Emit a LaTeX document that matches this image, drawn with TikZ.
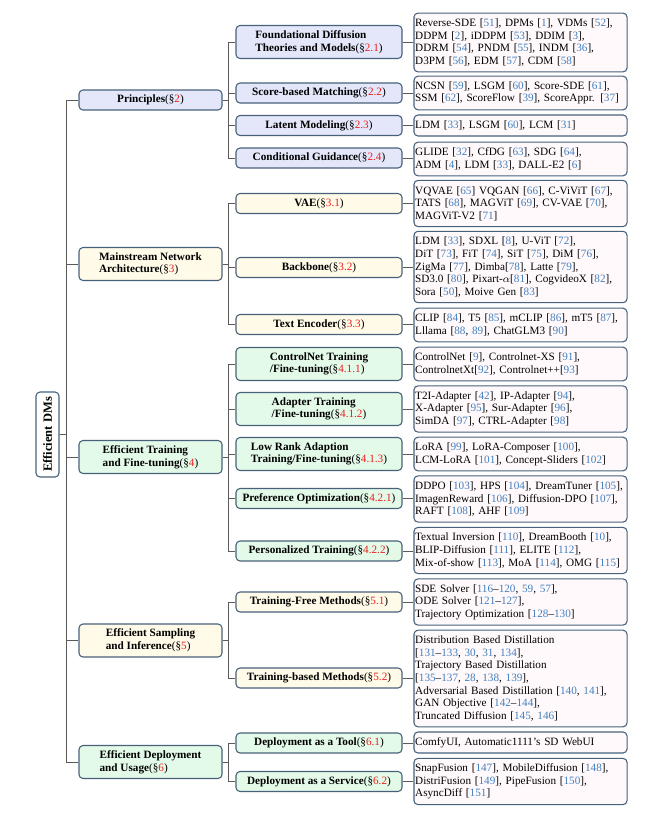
\documentclass[tikz,border=0pt]{standalone}
\usepackage{fontspec}
\setmainfont{Liberation Serif}
\usetikzlibrary{calc}
\definecolor{framec}{RGB}{72,97,122}
\definecolor{edgec}{RGB}{90,90,90}
\definecolor{purplebg}{RGB}{228,231,250}
\definecolor{yellowbg}{RGB}{255,251,232}
\definecolor{greenbg}{RGB}{228,250,232}
\definecolor{leafbg}{RGB}{255,249,251}
\definecolor{refblue}{RGB}{66,128,190}
\definecolor{secred}{RGB}{235,30,30}
\newcommand{\rf}[1]{\textcolor{refblue}{#1}}
\newcommand{\sect}[1]{{\mdseries(\S\textcolor{secred}{#1})}}
\def\txtfont{\fontsize{8.4}{9.45}\selectfont}

\tikzset{
	box/.style={draw=framec, line width=0.8pt, rounded corners=3pt, inner sep=1pt, font=\txtfont},
	rootbox/.style={box, fill=white, minimum width=17.25pt, minimum height=63.75pt, font=\fontsize{9.4}{10}\selectfont\bfseries},
	topicbox/.style={box, minimum width=107.25pt, align=left, font=\txtfont\bfseries},
	subbox/.style={box, minimum width=124.5pt, align=left, font=\txtfont\bfseries},
	one/.style={minimum height=15pt},
	two/.style={minimum height=24.75pt},
	leaf/.style={box, fill=leafbg, text width=158pt, inner xsep=0.9pt, align=left, minimum height={6.3pt+9.45pt*#1}},
	edge/.style={draw=edgec, line width=0.75pt},
}

\begin{document}
\begin{tikzpicture}[x=0.75pt, y=-0.75pt]
		%%%%% START %%%%%
		\fill[white] (0, 0) rectangle (667, 818);
		\useasboundingbox (0, 0) rectangle (667, 818);
		
		\node[rootbox] (root) at (47.5, 434.5) {\rotatebox{90}{Efficient DMs}};
		
		% level 1
		\node[topicbox, one, fill=purplebg] (prin) at (150.5, 100) {Principles\sect{2}};
		\node[topicbox, two, fill=yellowbg] (arch) at (150.5, 264) {Mainstream Network\\Architecture\sect{3}};
		\node[topicbox, two, fill=greenbg] (train) at (150.5, 457) {Efficient Training\\and Fine-tuning\sect{4}};
		\node[topicbox, two, fill=yellowbg] (samp) at (150.5, 640.5) {Efficient Sampling\\and Inference\sect{5}};
		\node[topicbox, two, fill=greenbg] (depl) at (150.5, 762) {Efficient Deployment\\and Usage\sect{6}};
		
		% level 2
		\node[subbox, two, fill=purplebg] (found) at (319, 42) {Foundational Diffusion\\Theories and Models\sect{2.1}};
		\node[subbox, one, fill=purplebg] (score) at (319, 93) {Score-based Matching\sect{2.2}};
		\node[subbox, one, fill=purplebg] (latent) at (319, 125.5) {Latent Modeling\sect{2.3}};
		\node[subbox, one, fill=purplebg] (cond) at (319, 158) {Conditional Guidance\sect{2.4}};
		
		\node[subbox, one, fill=yellowbg] (vae) at (319, 203.5) {VAE\sect{3.1}};
		\node[subbox, one, fill=yellowbg] (bone) at (319, 267.5) {Backbone\sect{3.2}};
		\node[subbox, one, fill=yellowbg] (tenc) at (319, 324.5) {Text Encoder\sect{3.3}};
		
		\node[subbox, two, fill=greenbg] (ctrl) at (319, 364) {ControlNet Training\\/Fine-tuning\sect{4.1.1}};
		\node[subbox, two, fill=greenbg] (adapt) at (319, 409) {Adapter Training\\/Fine-tuning\sect{4.1.2}};
		\node[subbox, two, fill=greenbg] (lora) at (319, 454) {Low Rank Adaption\\Training/Fine-tuning\sect{4.1.3}};
		\node[subbox, one, fill=greenbg] (pref) at (319, 498.5) {Preference Optimization\sect{4.2.1}};
		\node[subbox, one, fill=greenbg] (pers) at (319, 551) {Personalized Training\sect{4.2.2}};
		
		\node[subbox, one, fill=yellowbg] (tfree) at (319, 602) {Training-Free Methods\sect{5.1}};
		\node[subbox, one, fill=yellowbg] (tbased) at (319, 678) {Training-based Methods\sect{5.2}};
		
		\node[subbox, one, fill=greenbg] (tool) at (319, 743) {Deployment as a Tool\sect{6.1}};
		\node[subbox, one, fill=greenbg] (serv) at (319, 781.5) {Deployment as a Service\sect{6.2}};
		
		% leaves
		\node[leaf=4] (foundL) at (520.5, 42.5) {Reverse-SDE [\rf{51}], DPMs [\rf{1}], VDMs [\rf{52}],\\DDPM [\rf{2}], iDDPM [\rf{53}], DDIM [\rf{3}],\\DDRM [\rf{54}], PNDM [\rf{55}], INDM [\rf{36}],\\D3PM [\rf{56}], EDM [\rf{57}], CDM [\rf{58}]};
		\node[leaf=2] (scoreL) at (520.5, 93) {NCSN [\rf{59}], LSGM [\rf{60}], Score-SDE [\rf{61}],\\SSM [\rf{62}], ScoreFlow [\rf{39}], ScoreAppr. [\rf{37}]};
		\node[leaf=1] (latentL) at (520.5, 125.5) {LDM [\rf{33}], LSGM [\rf{60}], LCM [\rf{31}]};
		\node[leaf=2] (condL) at (520.5, 159) {GLIDE [\rf{32}], CfDG [\rf{63}], SDG [\rf{64}],\\ADM [\rf{4}], LDM [\rf{33}], DALL-E2 [\rf{6}]};
		
		\node[leaf=3] (vaeL) at (520.5, 203.5) {VQVAE [\rf{65}] VQGAN [\rf{66}], C-ViViT [\rf{67}],\\TATS [\rf{68}], MAGViT [\rf{69}], CV-VAE [\rf{70}],\\MAGViT-V2 [\rf{71}]};
		\node[leaf=5] (boneL) at (520.5, 267) {LDM [\rf{33}], SDXL [\rf{8}], U-ViT [\rf{72}],\\DiT [\rf{73}], FiT [\rf{74}], SiT [\rf{75}], DiM [\rf{76}],\\ZigMa [\rf{77}], Dimba[\rf{78}], Latte [\rf{79}],\\SD3.0 [\rf{80}], Pixart-$\alpha$[\rf{81}], CogvideoX [\rf{82}],\\Sora [\rf{50}], Moive Gen [\rf{83}]};
		\node[leaf=2] (tencL) at (520.5, 325) {CLIP [\rf{84}], T5 [\rf{85}], mCLIP [\rf{86}], mT5 [\rf{87}],\\Lllama [\rf{88}, \rf{89}], ChatGLM3 [\rf{90}]};
		
		\node[leaf=2] (ctrlL) at (520.5, 364) {ControlNet [\rf{9}], Controlnet-XS [\rf{91}],\\ControlnetXt[\rf{92}], Controlnet++[\rf{93}]};
		\node[leaf=3] (adaptL) at (520.5, 409) {T2I-Adapter [\rf{42}], IP-Adapter [\rf{94}],\\X-Adapter [\rf{95}], Sur-Adapter [\rf{96}],\\SimDA [\rf{97}], CTRL-Adapter [\rf{98}]};
		\node[leaf=2] (loraL) at (520.5, 454) {LoRA [\rf{99}], LoRA-Composer [\rf{100}],\\LCM-LoRA [\rf{101}], Concept-Sliders [\rf{102}]};
		\node[leaf=3] (prefL) at (520.5, 499) {DDPO [\rf{103}], HPS [\rf{104}], DreamTuner [\rf{105}],\\ImagenReward [\rf{106}], Diffusion-DPO [\rf{107}],\\RAFT [\rf{108}], AHF [\rf{109}]};
		\node[leaf=3] (persL) at (520.5, 550.5) {Textual Inversion [\rf{110}], DreamBooth [\rf{10}],\\BLIP-Diffusion [\rf{111}], ELITE [\rf{112}],\\Mix-of-show [\rf{113}], MoA [\rf{114}], OMG [\rf{115}]};
		
		\node[leaf=3] (tfreeL) at (520.5, 602) {SDE Solver [\rf{116}--\rf{120}, \rf{59}, \rf{57}],\\ODE Solver [\rf{121}--\rf{127}],\\Trajectory Optimization [\rf{128}--\rf{130}]};
		\node[leaf=7] (tbasedL) at (520.5, 678.5) {Distribution Based Distillation\\{}[\rf{131}--\rf{133}, \rf{30}, \rf{31}, \rf{134}],\\Trajectory Based Distillation\\{}[\rf{135}--\rf{137}, \rf{28}, \rf{138}, \rf{139}],\\Adversarial Based Distillation [\rf{140}, \rf{141}],\\GAN Objective [\rf{142}--\rf{144}],\\Truncated Diffusion [\rf{145}, \rf{146}]};
		
		\node[leaf=1] (toolL) at (520.5, 742.5) {ComfyUI, Automatic1111's SD WebUI};
		\node[leaf=3] (servL) at (520.5, 781.5) {SnapFusion [\rf{147}], MobileDiffusion [\rf{148}],\\DistriFusion [\rf{149}], PipeFusion [\rf{150}],\\AsyncDiff [\rf{151}]};
		
		% tree edges
		\foreach \c in {prin, arch, train, samp, depl}
			\draw[edge] (root.east) -- ++(7, 0) |- (\c.west);
		\foreach \c in {found, score, latent, cond}
			\draw[edge] (prin.east) -- ++(6, 0) |- (\c.west);
		\foreach \c in {vae, bone, tenc}
			\draw[edge] (arch.east) -- ++(6, 0) |- (\c.west);
		\foreach \c in {ctrl, adapt, lora, pref, pers}
			\draw[edge] (train.east) -- ++(6, 0) |- (\c.west);
		\foreach \c in {tfree, tbased}
			\draw[edge] (samp.east) -- ++(6, 0) |- (\c.west);
		\foreach \c in {tool, serv}
			\draw[edge] (depl.east) -- ++(6, 0) |- (\c.west);
		\foreach \c in {found, score, latent, cond, vae, bone, tenc, ctrl, adapt, lora, pref, pers, tfree, tbased, tool, serv}
			\draw[edge] (\c.east) -- (\c.east -| \c L.west);
		
		%%%%% END %%%%%
	\end{tikzpicture}
\end{document}
